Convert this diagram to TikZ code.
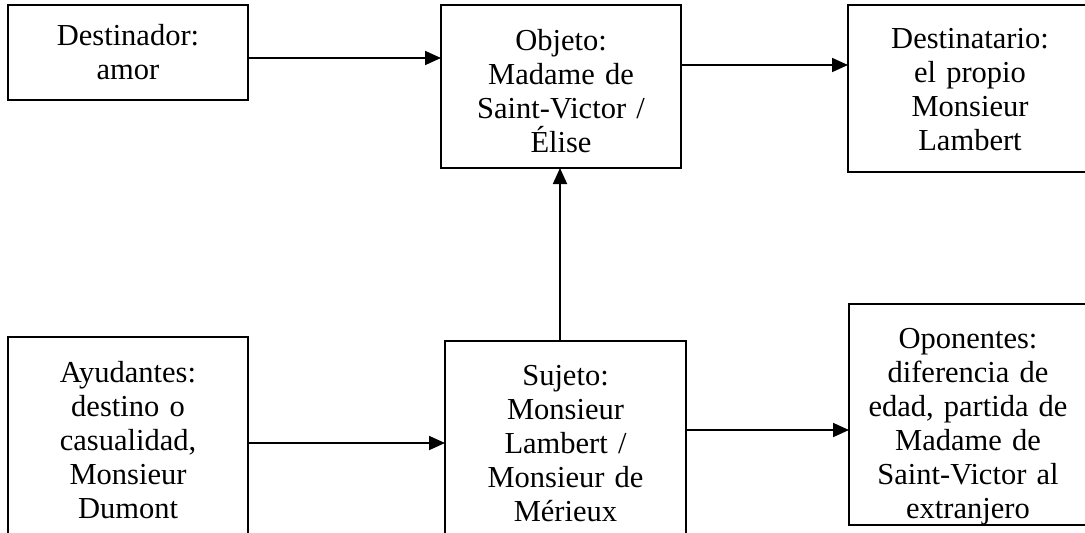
\documentclass[tikz,border=0pt]{standalone}
\usepackage{fontspec}
\setmainfont{Liberation Serif}
\usetikzlibrary{arrows.meta}
\begin{document}
\begin{tikzpicture}[x=1pt,y=-1pt,
  box/.style={draw,line width=1.8pt,inner sep=0pt,outer sep=0pt},
  lbl/.style={text width=235pt,align=center,inner sep=0pt,anchor=base,font=\fontsize{30.5}{34}\selectfont},
  arr/.style={-{Triangle[length=16pt,width=14pt]},line width=1.8pt}]
\useasboundingbox (0,0) rectangle (1085,533);
\clip (0,0) rectangle (1085,533);
% boxes
\node[box,minimum width=240pt,minimum height=95pt]  (dor)  at (128,52.5) {};
\node[box,minimum width=240pt,minimum height=163pt] (obj)  at (561,86.5) {};
\node[box,minimum width=244pt,minimum height=167pt] (dest) at (970,88.5) {};
\node[box,minimum width=240pt,minimum height=223pt] (ayu)  at (128,448.5) {};
\node[box,minimum width=241pt,minimum height=219pt] (suj)  at (565.5,450.5) {};
\node[box,minimum width=238pt,minimum height=221pt] (opo)  at (968,414.5) {};
% labels
\node[lbl] (tdor)  at (128,45)   {Destinador:\\amor};
\node[lbl] (tobj)  at (561,50)   {Objeto:\\Madame de\\Saint-Victor /\\Élise};
\node[lbl] (tdest) at (970,48)   {Destinatario:\\el propio\\Monsieur\\Lambert};
\node[lbl] (tayu)  at (128,382)  {Ayudantes:\\destino o\\casualidad,\\Monsieur\\Dumont};
\node[lbl] (tsuj)  at (565.5,385) {Sujeto:\\Monsieur\\Lambert /\\Monsieur de\\Mérieux};
\node[lbl] (topo)  at (968,348)  {Oponentes:\\diferencia de\\edad, partida de\\Madame de\\Saint-Victor al\\extranjero};
% connectors
\draw[arr] (dor.east |- 0,58) -- (obj.west |- 0,58);
\draw[arr] (obj.east |- 0,65) -- (dest.west |- 0,65);
\draw[arr] (suj.north -| 560,0) -- (obj.south -| 560,0);
\draw[arr] (ayu.east |- 0,443) -- (suj.west |- 0,443);
\draw[arr] (suj.east |- 0,430) -- (opo.west |- 0,430);
\end{tikzpicture}
\end{document}
